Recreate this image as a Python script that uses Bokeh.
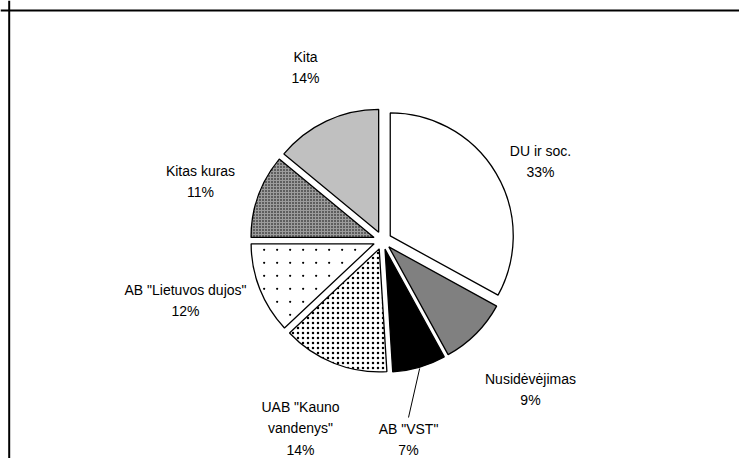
import numpy as np
from bokeh.plotting import figure
from bokeh.models import Range1d, Span
from bokeh.embed import file_html
from bokeh.resources import INLINE
from bokeh.core.properties import value

# ---- data ----
categories = ["DU ir soc.", "Nusidėvėjimas", 'AB "VST"', 'UAB "Kauno\nvandenys"',
              'AB "Lietuvos dujos"', "Kitas kuras", "Kita"]
shares = [33, 9, 7, 14, 12, 11, 14]

# ---- styles ----
fill_colors = ["#ffffff", "#808080", "#000000", "#ffffff", "#ffffff", "#9c9c9c", "#c0c0c0"]
hatch_patterns = ["blank", "blank", "blank", "dot", "blank", "dot", "blank"]
hatch_scales = [1, 1, 1, 5, 1, 3, 1]
sparse_dot_slices = ['AB "Lietuvos dujos"']   # drawn with a sparse dot texture
SPARSE_STEP_PX = 13

# ---- layout (pixels) ----
W, H = 739, 458
CX, CY = 382, 240          # pie centre in canvas px (from top-left)
R_PX = 123                 # radius
EXPLODE_PX = 9
FRAME_X, FRAME_Y = 8.7, 10
# label block centres relative to pie centre (px, y downwards)
label_dx = [158, 148, 26, -82, -197, -182, -77]
label_dy = [-79, 149, 199, 188, 60, -59, -173]

S = float(R_PX)
p = figure(width=W, height=H, output_backend="svg", toolbar_location=None,
           x_range=Range1d(-CX / S, (W - CX) / S),
           y_range=Range1d(-(H - CY) / S, CY / S),
           min_border=0, min_border_left=0, min_border_right=0,
           min_border_top=0, min_border_bottom=0)
p.axis.visible = False
p.grid.visible = False
p.outline_line_color = None
p.background_fill_color = "white"
p.border_fill_color = "white"

p.add_layout(Span(location=(FRAME_X - CX) / S, dimension="height",
                  line_color="black", line_width=2))
p.add_layout(Span(location=(CY - FRAME_Y) / S, dimension="width",
                  line_color="black", line_width=2))

vals = np.array(shares, dtype=float)
frac = vals / vals.sum()
cum_end = np.cumsum(frac)
cum_start = cum_end - frac
mid = (cum_start + cum_end) / 2 * 2 * np.pi  # clockwise from top
d = EXPLODE_PX / S

for i, cat in enumerate(categories):
    ox = d * np.sin(mid[i])
    oy = d * np.cos(mid[i])
    sa = np.pi / 2 - cum_start[i] * 2 * np.pi
    ea = np.pi / 2 - cum_end[i] * 2 * np.pi
    p.wedge(x=[ox], y=[oy], radius=1.0, start_angle=[sa], end_angle=[ea],
            direction="clock", fill_color=fill_colors[i],
            line_color="black", line_width=1.3,
            hatch_pattern=hatch_patterns[i], hatch_color="black",
            hatch_scale=hatch_scales[i], hatch_weight=1)

    if cat in sparse_dot_slices:
        # fill texture: a regular grid of small dots clipped to the slice
        step = SPARSE_STEP_PX / S
        g = np.arange(-1.0, 1.0 + step, step)
        gx, gy = np.meshgrid(g, g)
        gx, gy = gx.ravel(), gy.ravel()
        rr = np.hypot(gx, gy)
        th = np.mod(np.arctan2(gx, gy), 2 * np.pi)
        a0 = cum_start[i] * 2 * np.pi
        a1 = cum_end[i] * 2 * np.pi
        inset = 3.5 / S
        dist0 = rr * np.sin(np.clip(th - a0, 0, np.pi / 2))
        dist1 = rr * np.sin(np.clip(a1 - th, 0, np.pi / 2))
        keep = (rr < 1 - inset) & (th > a0) & (th < a1) & (dist0 > inset) & (dist1 > inset)
        p.scatter(x=gx[keep] + ox, y=gy[keep] + oy, size=2.2, marker="circle",
                  fill_color="black", line_color=None)

    lx = label_dx[i] / S
    ly = -label_dy[i] / S
    p.text(x=[lx], y=[ly], text=[f"{cat}\n{shares[i]}%"],
           text_align="center", text_baseline="middle",
           text_font=value("Liberation Sans"), text_font_size="14px",
           text_line_height=1.34, text_color="black")

    if cat == 'AB "VST"':
        sx = ox + 1.01 * np.sin(mid[i])
        sy = oy + 1.01 * np.cos(mid[i])
        ex = lx
        ey = ly + 22 / S
        p.line(x=[sx, ex], y=[sy, ey], line_color="black", line_width=1)

open("out.html", "w").write(file_html(p, INLINE))
